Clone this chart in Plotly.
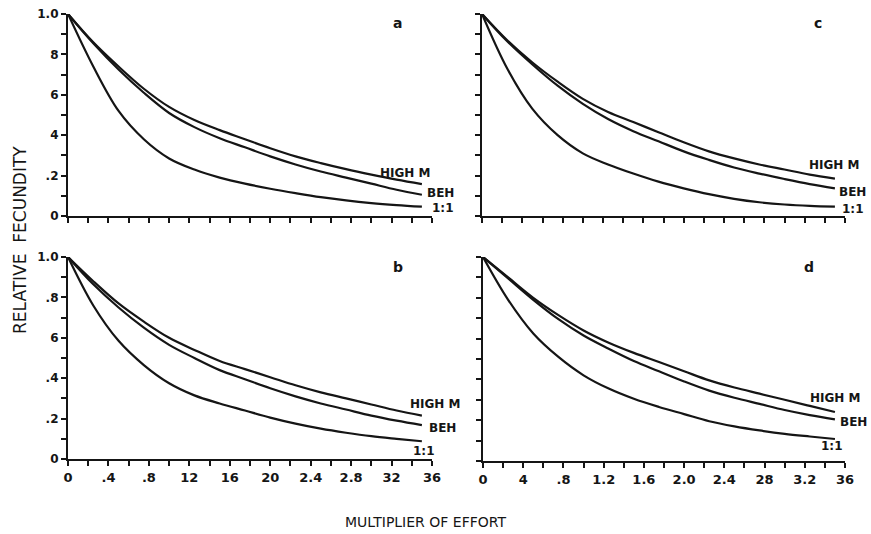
import plotly.graph_objects as go

# Multiplier of effort at which each curve is evaluated
effort = [0, 0.25, 0.5, 0.75, 1.0, 1.25, 1.5, 1.75, 2.0, 2.25, 2.5, 2.75, 3.0, 3.25, 3.5]

# Relative fecundity, panel a
a_high_m = [1.0, 0.86, 0.74, 0.63, 0.54, 0.475, 0.425, 0.38, 0.335, 0.295, 0.262, 0.232, 0.205, 0.18, 0.158]
a_beh = [1.0, 0.855, 0.725, 0.61, 0.51, 0.44, 0.385, 0.34, 0.295, 0.255, 0.22, 0.19, 0.16, 0.13, 0.105]
a_one = [1.0, 0.74, 0.52, 0.38, 0.285, 0.23, 0.19, 0.16, 0.135, 0.113, 0.093, 0.077, 0.064, 0.054, 0.046]

# Panel b
b_high_m = [1.0, 0.88, 0.77, 0.68, 0.6, 0.54, 0.485, 0.445, 0.405, 0.365, 0.33, 0.30, 0.27, 0.24, 0.215]
b_beh = [1.0, 0.865, 0.75, 0.65, 0.565, 0.5, 0.44, 0.395, 0.35, 0.31, 0.275, 0.245, 0.215, 0.19, 0.168]
b_one = [1.0, 0.76, 0.585, 0.465, 0.375, 0.315, 0.275, 0.24, 0.205, 0.175, 0.15, 0.13, 0.113, 0.1, 0.088]

# Panel c
c_high_m = [1.0, 0.87, 0.76, 0.665, 0.58, 0.515, 0.465, 0.415, 0.365, 0.32, 0.285, 0.255, 0.23, 0.205, 0.185]
c_beh = [1.0, 0.865, 0.75, 0.645, 0.555, 0.48, 0.42, 0.37, 0.32, 0.278, 0.24, 0.21, 0.183, 0.158, 0.137]
c_one = [1.0, 0.73, 0.53, 0.4, 0.31, 0.255, 0.21, 0.17, 0.137, 0.108, 0.085, 0.068, 0.057, 0.05, 0.046]

# Panel d
d_high_m = [1.0, 0.9, 0.8, 0.715, 0.64, 0.58, 0.53, 0.485, 0.44, 0.395, 0.36, 0.33, 0.30, 0.27, 0.24]
d_beh = [1.0, 0.895, 0.79, 0.695, 0.615, 0.55, 0.49, 0.44, 0.39, 0.345, 0.31, 0.28, 0.25, 0.225, 0.204]
d_one = [1.0, 0.79, 0.625, 0.51, 0.42, 0.355, 0.305, 0.265, 0.23, 0.195, 0.17, 0.15, 0.133, 0.12, 0.108]

series_names = ["HIGH M", "BEH", "1:1"]
panel_letters = ["a", "b", "c", "d"]

# Tick labels
x_tick_vals = [0.2 * i for i in range(19)]
x_labels_b = ["0", ".4", ".8", "12", "16", "20", "2.4", "2.8", "32", "36"]
x_labels_d = ["0", "4", ".8", "1.2", "1.6", "2.0", "2.4", "28", "3.2", "36"]
y_tick_vals = [0.1 * i for i in range(11)]
y_labels_a = ["0", ".2", "4", "6", "8", "1.0"]
y_labels_b = ["0", ".2", ".4", "6", ".8", "1.0"]

INK = "#151515"
FONT = "DejaVu Sans"


def spread(labels, n):
    """Place labels on every other tick, blanks between."""
    out = []
    for i in range(n):
        out.append(labels[i // 2] if i % 2 == 0 else "")
    return out


panels = {
    "a": dict(xa="x", ya="y", data=(a_high_m, a_beh, a_one),
              xdom=[68 / 871, 432 / 871], ydom=[1 - 216 / 534, 1 - 14 / 534],
              xlab=None, ylab=y_labels_a),
    "b": dict(xa="x2", ya="y2", data=(b_high_m, b_beh, b_one),
              xdom=[68 / 871, 432 / 871], ydom=[1 - 459 / 534, 1 - 257 / 534],
              xlab=x_labels_b, ylab=y_labels_b),
    "c": dict(xa="x3", ya="y3", data=(c_high_m, c_beh, c_one),
              xdom=[482 / 871, 845 / 871], ydom=[1 - 216 / 534, 1 - 14 / 534],
              xlab=None, ylab=None),
    "d": dict(xa="x4", ya="y4", data=(d_high_m, d_beh, d_one),
              xdom=[483 / 871, 845 / 871], ydom=[1 - 461 / 534, 1 - 257 / 534],
              xlab=x_labels_d, ylab=None),
}

# Label offsets (pixels) relative to each curve's last point
label_offsets = {
    "a": [(-16, 11, "center"), (3, 2, "left"), (8, -1, "left")],
    "b": [(14, 12, "center"), (5, -3, "left"), (2, -10, "center")],
    "c": [(0, 14, "center"), (2, -4, "left"), (5, -2, "left")],
    "d": [(1, 14, "center"), (3, -3, "left"), (-3, -7, "center")],
}
letter_pos = {"a": (3.26, 0.955), "b": (3.26, 0.95), "c": (3.33, 0.955), "d": (3.24, 0.95)}

fig = go.Figure()
annotations = []
layout = {}

for key in panel_letters:
    p = panels[key]
    for name, ys in zip(series_names, p["data"]):
        fig.add_trace(go.Scatter(
            x=effort, y=ys, mode="lines", name=name,
            line=dict(color=INK, width=2.2, shape="spline", smoothing=1.0),
            xaxis=p["xa"], yaxis=p["ya"], showlegend=False, hoverinfo="skip",
        ))
    for (dx, dy, anchor), name, ys in zip(label_offsets[key], series_names, p["data"]):
        annotations.append(dict(
            x=effort[-1], y=ys[-1], xref=p["xa"], yref=p["ya"], text=name,
            showarrow=False, xanchor=anchor, yanchor="middle",
            xshift=dx, yshift=dy,
            font=dict(family=FONT, size=12, color=INK, weight="bold"),
        ))
    lx, ly = letter_pos[key]
    annotations.append(dict(
        x=lx, y=ly, xref=p["xa"], yref=p["ya"], text=key, showarrow=False,
        xanchor="center", yanchor="middle",
        font=dict(family=FONT, size=14, color=INK, weight="bold"),
    ))

    xname = "xaxis" if p["xa"] == "x" else "xaxis" + p["xa"][1:]
    yname = "yaxis" if p["ya"] == "y" else "yaxis" + p["ya"][1:]
    layout[xname] = dict(
        domain=p["xdom"], anchor=p["ya"], range=[0, 3.6], automargin=False,
        showgrid=False, zeroline=False, showline=True, linecolor=INK, linewidth=2.2,
        ticks="outside", ticklen=5, tickwidth=2, tickcolor=INK,
        tickmode="array", tickvals=x_tick_vals,
        ticktext=spread(p["xlab"], 19) if p["xlab"] else [""] * 19,
        tickfont=dict(family=FONT, size=13, color=INK, weight="bold"),
        fixedrange=True,
    )
    layout[yname] = dict(
        domain=p["ydom"], anchor=p["xa"], range=[0, 1.0], automargin=False,
        showgrid=False, zeroline=False, showline=True, linecolor=INK, linewidth=2.2,
        ticks="outside", ticklen=5, tickwidth=2, tickcolor=INK,
        tickmode="array", tickvals=y_tick_vals,
        ticktext=spread(p["ylab"], 11) if p["ylab"] else [""] * 11,
        tickfont=dict(family=FONT, size=12, color=INK, weight="bold"),
        fixedrange=True,
    )

annotations.append(dict(
    x=20 / 871, y=1 - 240 / 534, xref="paper", yref="paper",
    xanchor="center", yanchor="middle",
    text="RELATIVE  FECUNDITY", textangle=-90, showarrow=False,
    font=dict(family=FONT, size=17, color=INK),
))
annotations.append(dict(
    x=425 / 871, y=1 - 522 / 534, xref="paper", yref="paper",
    xanchor="center", yanchor="middle",
    text="MULTIPLIER OF EFFORT", showarrow=False,
    font=dict(family=FONT, size=14, color=INK),
))

fig.update_layout(
    width=871, height=534,
    margin=dict(l=0, r=0, t=0, b=0, pad=0, autoexpand=False),
    paper_bgcolor="white", plot_bgcolor="white",
    annotations=annotations,
    **layout,
)

fig.write_html("out.html", config={"displayModeBar": False})
